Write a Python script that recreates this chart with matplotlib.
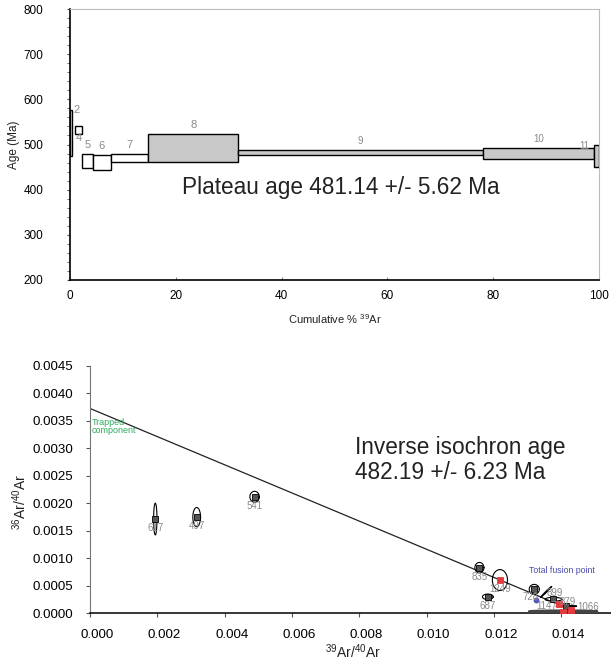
import numpy as np
import matplotlib
matplotlib.use("Agg")
import matplotlib.pyplot as plt
from matplotlib.patches import Rectangle
from matplotlib.transforms import ScaledTranslation

plt.rcParams['font.family'] = ['Liberation Sans', 'DejaVu Sans']
plt.rcParams['mathtext.fontset'] = 'custom'
plt.rcParams['mathtext.rm'] = 'Liberation Sans'
plt.rcParams['mathtext.it'] = 'Liberation Sans'
plt.rcParams['mathtext.bf'] = 'Liberation Sans'

# --- age spectrum steps (cumulative % 39Ar, apparent age and 1 sigma, Ma) ---
step_labels = ['2', '4', '5', '6', '7', '8', '9', '10', '11']
step_start = [0.05, 1.0, 2.2, 4.3, 7.7, 14.8, 31.8, 78.1, 99.1]
step_end = [0.35, 2.2, 4.3, 7.7, 14.8, 31.8, 78.1, 99.1, 100.0]
step_age = [525.5, 532.0, 463.5, 459.5, 470.5, 492.0, 482.0, 480.0, 474.0]
step_err = [50.5, 9.0, 14.5, 16.5, 9.5, 31.0, 5.0, 13.0, 24.0]
step_in_plateau = [False, False, False, False, False, True, True, True, True]
plateau_age = 481.14
plateau_err = 5.62

# --- inverse isochron (39Ar/40Ar, 36Ar/40Ar, half-axes and error correlation) ---
iso_labels = ['617', '497', '541', '835', '1249', '687', '728', '899', '1147',
              '879', '', '1066', '']
iso_x = [0.00194, 0.00317, 0.00489, 0.01157, 0.01218, 0.01182, 0.01320,
         0.01377, 0.01394, 0.01415, 0.01355, 0.01405, 0.01430]
iso_y = [0.001715, 0.00175, 0.00212, 0.00083, 0.000605, 0.00030, 0.000436,
         0.000255, 0.000169, 0.00013, 0.000388, 0.00003, 0.00006]
iso_sx = [0.00005, 0.000115, 0.00014, 0.000135, 0.000225, 0.00016, 0.00015,
          0.00025, 0.00003, 0.0003, 0.000165, 0.001, 0.00003]
iso_sy = [0.00029, 0.000175, 0.0001, 0.000095, 0.00019, 0.00005, 0.00009,
          0.000035, 0.00002, 0.000012, 0.0001, 0.000015, 0.00002]
iso_rho = [0, 0, 0, 0, 0, 0, 0, 0, 0, 0, 0.99, 0, 0]
iso_in_fit = [False, False, False, False, True, False, False, False, True,
              False, None, True, True]
total_fusion = (0.01325, 0.000242)
trapped_36_40 = 0.003727
x_intercept = 0.014545
iso_age = 482.19
iso_err = 6.23

fig = plt.figure(figsize=(6.11, 6.63), dpi=100)

# ================= plateau diagram =================
ax1 = fig.add_axes([0.1146, 0.5777, 0.8658, 0.4087])
for i in range(len(step_labels)):
    lo = step_age[i] - step_err[i]
    hi = step_age[i] + step_err[i]
    fc = '#c8c8c8' if step_in_plateau[i] else 'white'
    ax1.add_patch(Rectangle((step_start[i], lo), step_end[i] - step_start[i],
                            hi - lo, facecolor=fc, edgecolor='black', lw=1.0,
                            zorder=3))
    cx = (step_start[i] + step_end[i]) / 2
    lab = step_labels[i]
    if lab == '2':
        xy, off = (step_start[i], hi), (6, 0)
    elif lab == '4':
        xy, off = (cx, lo), (0, -3.5)
    elif lab == '11':
        xy, off = (cx, hi), (-12, -1)
    else:
        xy, off = (cx, hi), (0, 9)
    fs = 7 if lab in ('9', '10', '11') else 8
    ax1.annotate(lab, xy, xytext=off, textcoords='offset pixels',
                 ha='center', va='center', fontsize=fs, color='#8a8a8a')

ax1.text(0.2117, 0.3395,
         'Plateau age %.2f +/- %.2f Ma' % (plateau_age, plateau_err),
         transform=ax1.transAxes, fontsize=16.3, color='#222222',
         ha='left', va='center')

ax1.set_xlim(0, 100)
ax1.set_ylim(200, 800)
ax1.set_xticks(np.arange(0, 101, 20))
ax1.set_yticks(np.arange(200, 801, 100))
ax1.set_yticks(np.arange(200, 801, 20), minor=True)
ax1.tick_params(axis='y', which='both', direction='out', length=2,
                labelsize=8.5, pad=17, color='#555555')
ax1.tick_params(axis='x', direction='in', length=2, labelsize=8.5, pad=7,
                color='#888888')
for s in ('top', 'right'):
    ax1.spines[s].set_color('#bbbbbb')
    ax1.spines[s].set_linewidth(0.8)
for s in ('left', 'bottom'):
    ax1.spines[s].set_color('black')
    ax1.spines[s].set_linewidth(1.2)
ax1.set_ylabel('Age (Ma)', fontsize=8.5, color='#222222')
ax1.yaxis.set_label_coords(-0.0945, 0.5)
ax1.set_xlabel(r'Cumulative % $^{39}$Ar', fontsize=8, color='#222222')
ax1.xaxis.set_label_coords(0.501, -0.12)

# ================= inverse isochron =================
ax2 = fig.add_axes([0.1473, 0.075, 0.8527, 0.373])
xs = np.linspace(0, x_intercept * 0.99, 50)
ax2.plot(xs, trapped_36_40 * (1 - xs / x_intercept), color='#222222',
         lw=0.9, zorder=2)

t = np.linspace(0, 2 * np.pi, 200)
for i in range(len(iso_x)):
    ex = iso_x[i] + iso_sx[i] * np.cos(t)
    ey = iso_y[i] + iso_sy[i] * (iso_rho[i] * np.cos(t)
                                 + np.sqrt(1 - iso_rho[i] ** 2) * np.sin(t))
    ec = '#444444' if iso_sx[i] > 0.0005 else 'black'
    elw = 2.0 if iso_sx[i] > 0.0005 else 0.8
    ax2.plot(ex, ey, color=ec, lw=elw, zorder=3)
    if iso_in_fit[i] is None:
        continue
    fc = '#e8393d' if iso_in_fit[i] else '#555555'
    mec = '#e8393d' if iso_in_fit[i] else 'black'
    ax2.plot(iso_x[i], iso_y[i], 's', ms=3.8, mfc=fc, mec=mec, mew=0.6,
             zorder=4)

label_off = {'899': (1, 6.5), '1147': (-12, -2), '879': (2, 4.5),
             '1066': (25, 5), '728': (-4, -8)}
for i, lab in enumerate(iso_labels):
    if not lab:
        continue
    ax2.annotate(lab, (iso_x[i], iso_y[i]),
                 xytext=label_off.get(lab, (0, -9)), textcoords='offset pixels',
                 ha='center', va='center', fontsize=7, color='#8a8a8a',
                 zorder=5)

ax2.plot(*total_fusion, 'o', ms=3.6, mfc='#5a5ac8', mec='#3a3aa0', mew=0.5,
         zorder=4)
ax2.annotate('Total fusion point', total_fusion, xytext=(-7, 29),
             textcoords='offset pixels', ha='left', va='center',
             fontsize=6.3, color='#4a4ab0')
ax2.annotate('Trapped\ncomponent', (0, trapped_36_40), xytext=(2, -18),
             textcoords='offset pixels', ha='left', va='center',
             fontsize=6.5, color='#2eaa5c', linespacing=0.95)

ax2.text(0.5086, 0.62,
         'Inverse isochron age\n%.2f +/- %.2f Ma' % (iso_age, iso_err),
         transform=ax2.transAxes, fontsize=16.3, color='#222222',
         ha='left', va='center', linespacing=1.1)

ax2.set_xlim(0, 0.01548)
ax2.set_ylim(0, 0.0045)
ax2.set_xticks(np.arange(0, 0.0141, 0.002))
ax2.set_yticks(np.arange(0, 0.00451, 0.0005))
ax2.xaxis.set_major_formatter(plt.FormatStrFormatter('%.3f'))
ax2.yaxis.set_major_formatter(plt.FormatStrFormatter('%.4f'))
ax2.tick_params(axis='both', direction='out', length=3, labelsize=9.6,
                color='#555555')
ax2.tick_params(axis='x', pad=8)
ax2.tick_params(axis='y', pad=9)
shift = ScaledTranslation(7 / 100, 0, fig.dpi_scale_trans)
for lbl in ax2.get_xticklabels():
    lbl.set_transform(lbl.get_transform() + shift)
for s in ('top', 'right'):
    ax2.spines[s].set_visible(False)
ax2.spines['left'].set_color('#777777')
ax2.spines['bottom'].set_color('black')
ax2.spines['bottom'].set_linewidth(1.1)
ax2.set_ylabel(r'$^{36}$Ar/$^{40}$Ar', fontsize=10, color='#222222')
ax2.yaxis.set_label_coords(-0.118, 0.45)
ax2.set_xlabel(r'$^{39}$Ar/$^{40}$Ar', fontsize=10, color='#222222')
ax2.xaxis.set_label_coords(0.505, -0.118)

fig.savefig('out.png', dpi=100)
